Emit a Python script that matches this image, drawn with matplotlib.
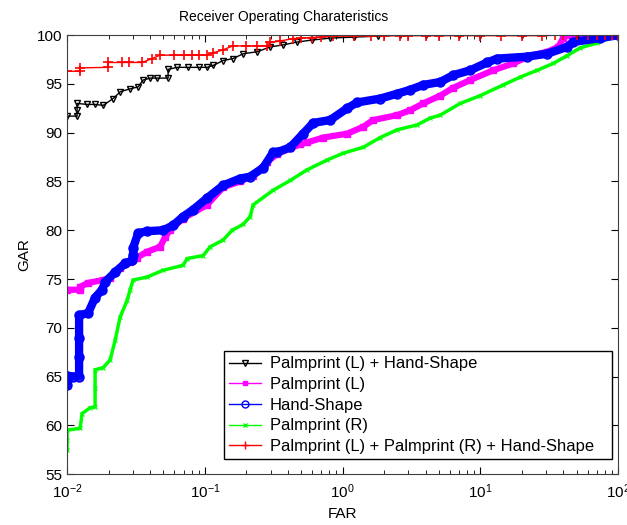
import numpy as np
import matplotlib
matplotlib.use("Agg")
import matplotlib.pyplot as plt
from matplotlib.lines import Line2D

plt.rcParams['font.family'] = ['Liberation Sans', 'DejaVu Sans']
plt.rcParams['mathtext.fontset'] = 'custom'
plt.rcParams['mathtext.rm'] = 'Liberation Sans'

# ROC data (FAR in %, GAR in %)
far_plh = [0.01, 0.01182, 0.01182, 0.01182, 0.0140, 0.0160, 0.01825, 0.0216, 0.0243,
           0.0287, 0.0328, 0.0356, 0.0401, 0.045, 0.0541, 0.0541, 0.0629, 0.075, 0.09,
           0.104, 0.115, 0.1357, 0.160, 0.190, 0.240, 0.298, 0.370, 0.467, 0.60, 0.811,
           1.2, 1.8, 2.61, 4.0, 7.0, 10.0, 20.0, 50.0, 100.0]
gar_plh = [91.7, 91.7, 92.3, 93.0, 92.9, 92.9, 92.8, 93.5, 94.2,
           94.5, 94.7, 95.4, 95.6, 95.6, 95.6, 96.5, 96.7, 96.7, 96.7,
           96.7, 96.9, 97.4, 97.6, 98.1, 98.3, 98.8, 99.0, 99.3, 99.5, 99.7,
           99.8, 99.9, 100, 100, 100, 100, 100, 100, 100]

far_pl = [0.01, 0.01243, 0.01243, 0.01421, 0.01825, 0.02052, 0.02426, 0.02867, 0.03222,
          0.03809, 0.04733, 0.05146, 0.05594, 0.06952, 0.1038, 0.1357, 0.1803, 0.2240,
          0.2831, 0.3346, 0.4159, 0.4915, 0.5525, 0.7219, 1.078, 1.408, 1.665, 2.487,
          3.090, 3.842, 5.104, 6.342, 8.425, 12.38, 17.29, 22.97, 30.52, 36.68, 39.87,
          42.64, 100.0]
gar_pl = [73.9, 73.9, 74.2, 74.6, 74.9, 75.1, 76.1, 76.7, 77.2,
          77.8, 78.3, 79.3, 80.0, 81.2, 82.6, 84.4, 85.0, 85.6,
          87.0, 87.8, 88.4, 88.8, 89.0, 89.5, 89.9, 90.6, 91.3, 91.8,
          92.3, 93.0, 93.8, 94.6, 95.4, 96.4, 97.1, 97.9, 98.3, 98.8, 99.7,
          100, 100]

far_hs = [0.01, 0.01, 0.01, 0.011, 0.01222, 0.01222, 0.01222, 0.01222, 0.01421, 0.01597,
          0.01796, 0.01888, 0.02231, 0.02637, 0.02964, 0.03014, 0.03014, 0.03277, 0.03809,
          0.04977, 0.05882, 0.06952, 0.08215, 0.1038, 0.1357, 0.1803, 0.2131, 0.2648,
          0.3130, 0.3346, 0.4159, 0.5168, 0.6107, 0.8114, 1.078, 1.274, 1.872, 2.487,
          3.090, 3.842, 5.104, 6.342, 8.425, 11.19, 13.23, 21.85, 30.52, 42.64, 47.13,
          74.02, 100.0]
gar_hs = [64.1, 64.6, 65.1, 65.0, 65.0, 67.0, 69.0, 71.3, 71.5, 73.1,
          73.9, 74.7, 75.7, 76.6, 76.9, 77.5, 78.2, 79.7, 79.9,
          80.0, 80.5, 81.4, 82.1, 83.3, 84.6, 85.3, 85.5, 86.4,
          88.0, 88.0, 88.5, 89.9, 91.0, 91.3, 92.5, 93.1, 93.5, 94.0,
          94.4, 94.9, 95.2, 95.9, 96.4, 97.2, 97.6, 97.8, 98.1, 98.8, 99.3,
          99.7, 100]

far_pr = [0.01, 0.01, 0.01, 0.01243, 0.01285, 0.01469, 0.01597, 0.01597, 0.01597, 0.01825,
          0.02052, 0.02231, 0.02426, 0.02727, 0.02867, 0.03014, 0.03809, 0.04977, 0.06952,
          0.07431, 0.09712, 0.1092, 0.1357, 0.1577, 0.1896, 0.2131, 0.2240, 0.3130, 0.4159,
          0.5525, 0.7718, 1.008, 1.408, 1.872, 2.487, 3.474, 4.318, 5.104, 7.129, 9.959,
          14.63, 19.44, 25.82, 33.74, 42.64, 52.97, 70.39, 100.0]
gar_pr = [57.5, 58.5, 59.5, 59.7, 61.2, 61.8, 61.9, 63.8, 65.7, 65.9,
          66.7, 68.7, 71.1, 72.8, 73.9, 74.9, 75.2, 75.9, 76.4,
          77.1, 77.4, 78.3, 79.0, 80.0, 80.6, 81.4, 82.6, 84.1, 85.1,
          86.2, 87.2, 87.9, 88.5, 89.5, 90.3, 90.8, 91.5, 91.8, 93.0, 93.8,
          94.9, 95.7, 96.4, 97.1, 97.9, 98.7, 99.2, 100]

far_all = [0.01, 0.01243, 0.01243, 0.01984, 0.01984, 0.025, 0.028, 0.035, 0.0414, 0.0473,
           0.06, 0.07, 0.08, 0.09, 0.104, 0.115, 0.1357, 0.160, 0.20, 0.24, 0.283, 0.298,
           0.35, 0.438, 0.5, 0.6, 0.7, 0.853, 1.2, 1.6, 2.0, 2.61, 3.0, 4.0, 5.0, 7.0, 10.0,
           14.0, 20.0, 28.0, 35.0, 40.0, 50.0, 60.0, 70.0, 80.0, 90.0, 100.0]
gar_all = [96.3, 96.3, 96.65, 96.7, 97.2, 97.2, 97.2, 97.2, 97.6, 97.95,
           97.95, 97.95, 97.95, 97.95, 97.95, 98.2, 98.5, 98.9, 98.9, 98.9, 98.9, 99.25,
           99.4, 99.65, 99.7, 99.75, 99.8, 99.9, 99.9, 99.92, 99.95, 99.95, 99.95, 99.95, 99.95, 99.95, 99.95,
           99.95, 99.95, 99.95, 100, 100, 100, 100, 100, 100, 100, 100]

labels = ["Palmprint (L) + Hand-Shape", "Palmprint (L)", "Hand-Shape", "Palmprint (R)",
          "Palmprint (L) + Palmprint (R) + Hand-Shape"]

fig = plt.figure(figsize=(6.27, 5.25), dpi=100)
ax = fig.add_axes([0.107, 0.097, 0.879, 0.836])

# thick lines imitate the densely packed markers of the original
ax.plot(far_pr, gar_pr, color='#00ff00', lw=2.5, marker='x', ms=3, mew=0.8)
ax.plot(far_pl, gar_pl, color='#ff00ff', lw=4.5, marker='s', ms=4, mec='#ff00ff')
ax.plot(far_hs, gar_hs, color='#0000ff', lw=6, marker='o', ms=6, mfc='none', mec='#0000ff', mew=1.5)
ax.plot(far_plh, gar_plh, color='black', lw=1, marker='v', ms=4, mfc='none')
ax.plot(far_all, gar_all, color='#ff0000', lw=1, marker='+', ms=7, mew=1.2)

ax.set_xscale('log')
ax.set_xlim(0.01, 100)
ax.set_ylim(55, 100)
ax.set_yticks(np.arange(55, 101, 5))
ax.tick_params(which='both', direction='in', top=True, right=True, labelsize=11)
ax.tick_params(which='major', length=5)
ax.tick_params(which='minor', length=3)
ax.tick_params(axis='x', pad=6)
for s in ax.spines.values():
    s.set_color('#404040')

fig.text(0.452, 0.968, "Receiver Operating Charateristics", fontsize=10,
         ha='center', va='center')
ax.set_xlabel("FAR", fontsize=11)
ax.set_ylabel("GAR", fontsize=11)

handles = [
    Line2D([], [], color='black', lw=1, marker='v', ms=4, mfc='none'),
    Line2D([], [], color='#ff00ff', lw=1, marker='s', ms=3),
    Line2D([], [], color='#0000ff', lw=1, marker='o', ms=5, mfc='none'),
    Line2D([], [], color='#00ff00', lw=1, marker='x', ms=3),
    Line2D([], [], color='#ff0000', lw=1, marker='+', ms=6),
]
leg = ax.legend(handles, labels, loc='lower left', bbox_to_anchor=(0.285, 0.034, 0.704, 0),
                mode='expand', fontsize=11.9, fancybox=False, framealpha=1,
                edgecolor='black', borderaxespad=0, handlelength=1.9, handletextpad=0.55,
                labelspacing=0.345, borderpad=0.3)
leg.get_frame().set_linewidth(1)

plt.savefig('out.png', dpi=100)
